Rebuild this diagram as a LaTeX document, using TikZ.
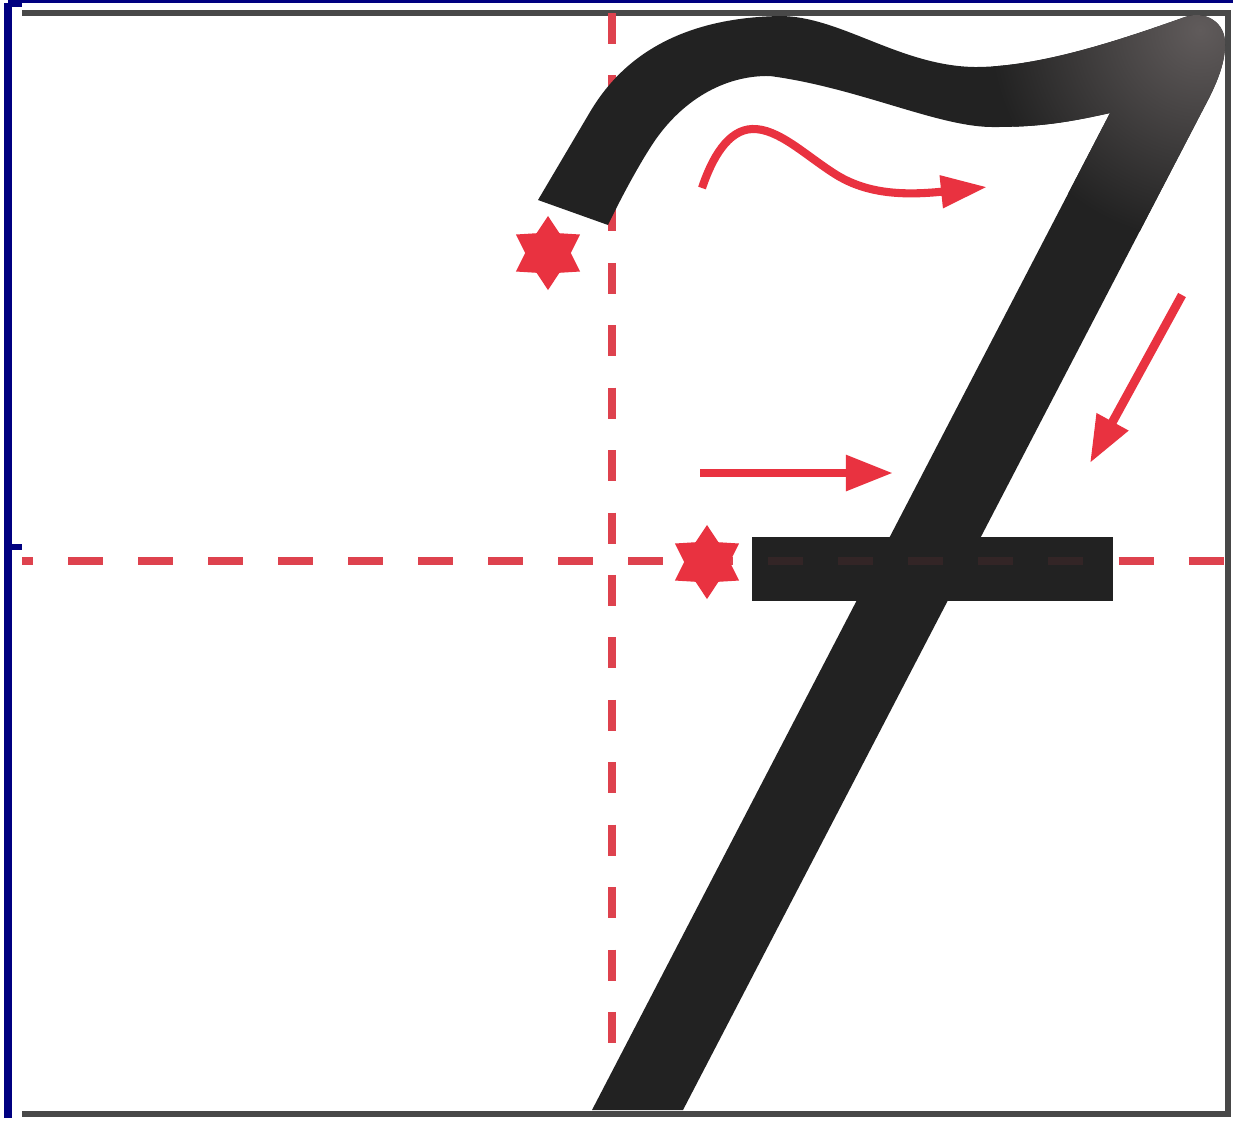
\documentclass[tikz,border=0pt]{standalone}
\usepackage{tikz}
\usetikzlibrary{arrows.meta,shapes.geometric}
\definecolor{GuideRed}{RGB}{222,66,78}
\definecolor{ArrowRed}{RGB}{233,50,64}
\definecolor{InkBlack}{RGB}{34,34,34}
\definecolor{InkGray}{RGB}{96,91,91}
\definecolor{FrameGray}{RGB}{72,72,72}
\definecolor{EdgeNavy}{RGB}{0,0,128}

% outline of the figure seven, in pixel units
\newcommand{\sevenoutline}{(538,200) -- (590,112)
  .. controls (612,75) and (660,18) .. (780,16)
  .. controls (840,16) and (900,66) .. (975,67)
  .. controls (1040,67) and (1120,40) .. (1185,17)
  .. controls (1205,10) and (1226,22) .. (1225,45)
  .. controls (1225,62) and (1218,80) .. (1209,98)
  -- (683,1110) -- (592,1110) -- (1110,113)
  .. controls (1070,122) and (1040,127) .. (995,127)
  .. controls (940,128) and (860,88) .. (770,76)
  .. controls (725,75) and (680,100) .. (650,148)
  .. controls (636,170) and (620,200) .. (608,225)
  -- cycle}

\begin{document}
\begin{tikzpicture}[x=0.01cm, y=-0.01cm,
  guide/.style={draw=GuideRed, line width=2.2pt},
  flow/.style={draw=ArrowRed, line width=2.5pt, -{Triangle[length=0.47cm, width=0.34cm]}},
  startmark/.style={star, star points=6, star point ratio=1.62, fill=ArrowRed, inner sep=0pt, minimum size=0.74cm},
  paperedge/.style={draw=FrameGray, line width=1.7pt}]
  \useasboundingbox (0,0) rectangle (1233,1123);
  \fill[white] (0,0) rectangle (1233,1123);

  % page border
  \fill[EdgeNavy] (8,0) rectangle (1233,3.3);
  \fill[EdgeNavy] (8,0) rectangle (22,7);
  \fill[EdgeNavy] (4,3) rectangle (12,1118);
  \fill[EdgeNavy] (12,544) rectangle (22,550);
  \draw[paperedge] (22,12.5) -- (1227.5,12.5) -- (1227.5,1113.5) -- (22,1113.5);

  % guide lines
  \draw[guide, dash pattern=on 0.35cm off 0.35cm, dash phase=0.24cm] (22,561) -- (1228,561);
  \draw[guide, dash pattern=on 0.31cm off 0.314cm] (612,13) -- (612,1043);

  % the seven
  \fill[InkBlack] \sevenoutline;
  \begin{scope}
    \clip \sevenoutline;
    \shade[inner color=InkGray, outer color=InkBlack] (1200,30) circle (210);
  \end{scope}
  \fill[InkBlack] (752,537) rectangle (1113,601);
  \draw[guide, draw=GuideRed!9!InkBlack, dash pattern=on 0.35cm off 0.35cm] (768,561) -- (1083,561);

  % start points
  \node[startmark] (startcap) at (548,253) {};
  \node[startmark] (startbar) at (707,562) {};

  % stroke directions
  \coordinate (wavefrom) at (702,188);
  \coordinate (waveto) at (987,187);
  \draw[flow, line width=2.3pt, -{Triangle[length=0.46cm, width=0.31cm]}] (wavefrom) .. controls (712,158) and (728,130) .. (752,129)
    .. controls (778,128) and (805,155) .. (835,174) .. controls (865,193) and (900,196) .. (waveto);
  \coordinate (barfrom) at (700,473);
  \coordinate (barto) at (893,473);
  \draw[flow] (barfrom) -- (barto);
  \coordinate (slantfrom) at (1182,295);
  \coordinate (slantto) at (1090,463);
  \draw[flow] (slantfrom) -- (slantto);
\end{tikzpicture}
\end{document}
